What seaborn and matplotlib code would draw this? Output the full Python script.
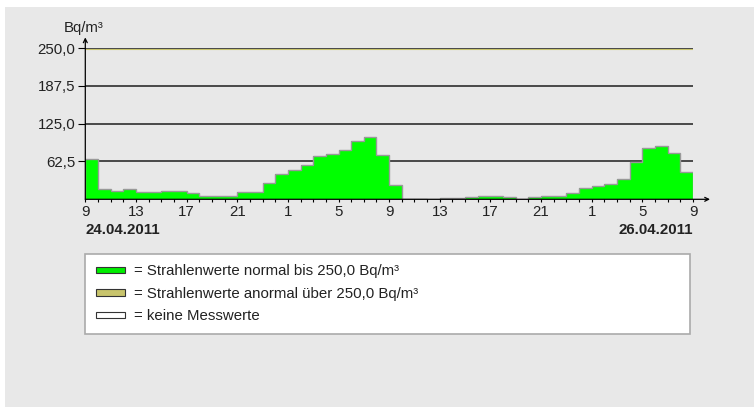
import numpy as np
import pandas as pd
import seaborn as sns
from matplotlib import pyplot as plt
from matplotlib.patches import Patch, Rectangle

# Stundenwerte 24.04.2011 9 Uhr bis 26.04.2011 9 Uhr (NaN = keine Messwerte)
werte = [
    66.0, 16.5, 14.0, 16.5, 12.0, 12.0, 13.5, 13.5, 10.5, 5.5, 5.5, 5.5,
    12.0, 12.0, 27.0, 42.5, 48.0, 56.5, 71.0, 75.5, 81.0, 96.0, 102.5, 73.5,
    23.0, 0.6, 0.6, np.nan, 2.0, 2.0, 4.3, 6.0, 6.0, 3.5, np.nan, 3.5,
    5.5, 5.5, 10.5, 18.5, 22.5, 25.0, 33.0, 62.0, 85.0, 87.5, 77.0, 45.5,
]
stunden_labels = ["9", "13", "17", "21", "1", "5", "9", "13", "17", "21", "1", "5", "9"]
y_ticks = [62.5, 125.0, 187.5, 250.0]
y_labels = ["62,5", "125,0", "187,5", "250,0"]
datum_start = "24.04.2011"
datum_ende = "26.04.2011"
grenzwert = 250.0
legende = [
    ("#00ee00", "= Strahlenwerte normal bis 250,0 Bq/m³"),
    ("#c8c46c", "= Strahlenwerte anormal über 250,0 Bq/m³"),
    ("#ffffff", "= keine Messwerte"),
]

sns.set_style("white")
plt.rcParams["font.family"] = ["Liberation Sans", "DejaVu Sans"]
plt.rcParams["font.size"] = 10.8

W, H = 754, 407
fig = plt.figure(figsize=(W / 100, H / 100), dpi=100, facecolor="white")
fig.patches.append(
    Rectangle((5 / W, 0), 1, (H - 7) / H, transform=fig.transFigure,
              facecolor="#e8e8e8", edgecolor="none", zorder=-10)
)

ax_left, ax_right, ax_base, ax_top = 85.3, 693.0, 199.3, 48.0
ax = fig.add_axes([ax_left / W, (H - ax_base) / H,
                   (ax_right - ax_left) / W, (ax_base - ax_top) / H])
ax.set_facecolor("none")

df = pd.DataFrame({"stunde": np.arange(len(werte)), "wert": werte})
sns.barplot(data=df, x="stunde", y="wert", order=list(range(len(werte))),
            color="#00ff00", saturation=1, width=1.0, linewidth=0,
            errorbar=None, ax=ax, zorder=2)
kanten = np.arange(len(werte) + 1) - 0.5
ax.stairs(df["wert"].to_numpy(), kanten, baseline=0, fill=False,
          edgecolor="#999999", linewidth=1.0, zorder=3)

# Gitterlinien
for yv in y_ticks:
    ax.axhline(yv, color="#3c3c3c", linewidth=1.3, zorder=0.5)
ax.axhline(grenzwert - 1.7, color="#c8c46c", linewidth=0.8, zorder=0.4)

ax.set_xlim(-0.5, len(werte) - 0.5)
ax.set_ylim(0, 250)
for s in ax.spines.values():
    s.set_visible(False)

ax.set_xticks(kanten, minor=True)
ax.set_xticks(kanten[::4])
ax.set_xticklabels(stunden_labels)
ax.set_yticks(y_ticks)
ax.set_yticklabels(y_labels)
ax.tick_params(axis="x", which="both", direction="out", length=2.2, width=0.8,
               color="black", bottom=True, pad=2.2, labelcolor="#222222")
ax.tick_params(axis="y", direction="out", length=5, width=0.8, color="black",
               left=True, pad=2, labelcolor="#222222")
ax.set_xlabel("")
ax.set_ylabel("")

# Achsen mit Pfeilen
ax.annotate("", xy=(0, 1.07), xytext=(0, 0), xycoords="axes fraction",
            arrowprops=dict(arrowstyle="->", color="black", lw=0.9,
                            mutation_scale=7, shrinkA=0, shrinkB=0))
ax.annotate("", xy=(1.028, 0), xytext=(0, 0), xycoords="axes fraction",
            arrowprops=dict(arrowstyle="->", color="black", lw=0.9,
                            mutation_scale=7, shrinkA=0, shrinkB=0))
ax.text(-0.036, 1.132, "Bq/m³", transform=ax.transAxes, ha="left", va="center",
        color="#222222")

ax.annotate(datum_start, xy=(0, 0), xycoords="axes fraction", xytext=(0, -31),
            textcoords="offset pixels", ha="left", va="center",
            fontweight="bold", color="#222222")
ax.annotate(datum_ende, xy=(1, 0), xycoords="axes fraction", xytext=(0, -31),
            textcoords="offset pixels", ha="right", va="center",
            fontweight="bold", color="#222222")

handles = [Patch(facecolor=c, edgecolor="#333333", linewidth=0.8) for c, _ in legende]
fig.legend(handles, [t for _, t in legende],
           bbox_to_anchor=(85 / W, (H - 333) / H, 605 / W, 79 / H),
           loc="upper left", mode="expand", borderaxespad=0, fancybox=False,
           frameon=True, facecolor="white", edgecolor="#aaaaaa", framealpha=1,
           handlelength=1.95, handleheight=0.28, handletextpad=0.65,
           borderpad=0.7, labelspacing=0.56, fontsize=10.8, labelcolor="#222222")
fig.legends[0].get_frame().set_linewidth(1.2)

fig.savefig("out.png", dpi=100)
